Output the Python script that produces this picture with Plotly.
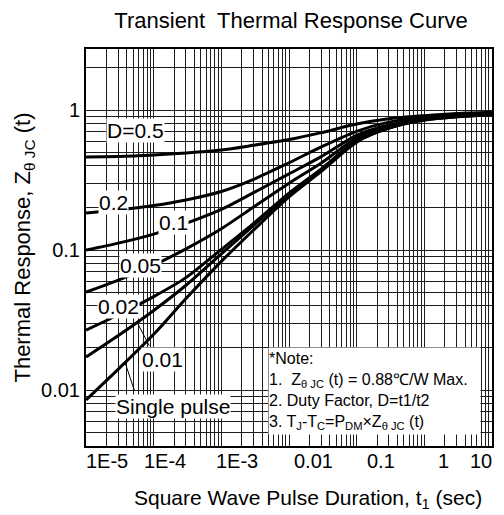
import numpy as np
import plotly.graph_objects as go

# ---- data ----
t_sec = [1e-5, 3e-5, 1e-4, 3e-4, 1e-3, 3e-3, 1e-2, 3e-2, 0.1, 0.3, 1, 3, 10]
z_d05 = [0.462, 0.465, 0.477, 0.493, 0.518, 0.56, 0.615, 0.69, 0.794, 0.866, 0.912, 0.945, 0.965]
z_d02 = [0.184, 0.193, 0.208, 0.228, 0.262, 0.32, 0.42, 0.545, 0.705, 0.82, 0.89, 0.925, 0.95]
z_d01 = [0.1, 0.112, 0.13, 0.155, 0.195, 0.257, 0.35, 0.465, 0.66, 0.782, 0.863, 0.906, 0.935]
z_d005 = [0.05, 0.061, 0.078, 0.102, 0.142, 0.203, 0.3, 0.418, 0.631, 0.768, 0.86, 0.903, 0.932]
z_d002 = [0.0268, 0.0345, 0.0465, 0.0635, 0.101, 0.155, 0.255, 0.38, 0.605, 0.752, 0.855, 0.9, 0.93]
z_d001 = [0.0172, 0.0245, 0.037, 0.056, 0.094, 0.15, 0.25, 0.373, 0.598, 0.744, 0.849, 0.897, 0.928]
z_single = [0.0085, 0.0141, 0.025, 0.045, 0.083, 0.139, 0.24, 0.365, 0.59, 0.742, 0.847, 0.895, 0.926]

series_names = ["D=0.5", "0.2", "0.1", "0.05", "0.02", "0.01", "Single pulse"]
series_values = [z_d05, z_d02, z_d01, z_d005, z_d002, z_d001, z_single]

x_tick_vals = [1e-5, 1e-4, 1e-3, 1e-2, 0.1, 1, 10]
x_tick_labels = ["1E-5", "1E-4", "1E-3", "0.01", "0.1", "1", "10"]
y_tick_vals = [0.01, 0.1, 1]
y_tick_labels = ["0.01", "0.1", "1"]

# ---- layout helpers ----
FONT = "Liberation Sans, Arial, sans-serif"
NB = "\u00a0"
# pixel shift of each x tick label from its tick, as placed in the reference
x_label_shift = [21, 11, 16, 24, 24, 19, -11]

minor_x = [m * 10.0 ** e for e in range(-5, 1) for m in range(2, 10)]
minor_y = [m * 10.0 ** e for e in range(-3, 1) for m in range(2, 10)]

fig = go.Figure()
for name, vals in zip(series_names, series_values):
    fig.add_trace(go.Scatter(
        x=t_sec, y=vals, mode="lines", name=name,
        line=dict(color="black", width=3, shape="spline", smoothing=0.8),
        showlegend=False, hoverinfo="skip"))

annotations = []

# x tick labels
for v, s, dx in zip(x_tick_vals, x_tick_labels, x_label_shift):
    annotations.append(dict(x=np.log10(v), y=0, xref="x", yref="paper", text=s,
                            showarrow=False, xshift=dx, yshift=-15,
                            xanchor="center", yanchor="middle",
                            font=dict(family=FONT, size=20, color="black")))

# curve labels (position in log10 data coords)
labels = [
    ("D=0.5", -4.276, -0.143),
    ("0.2", -4.601, -0.664),
    ("0.1", -3.714, -0.800),
    ("0.05", -4.202, -1.114),
    ("0.02", -4.527, -1.400),
    ("0.01", -3.877, -1.779),
    ("Single pulse", -3.714, -2.121),
]
for txt, lx, ly in labels:
    annotations.append(dict(x=lx, y=ly, xref="x", yref="y", text=txt, showarrow=False,
                            font=dict(family=FONT, size=21, color="black"),
                            bgcolor="white", borderpad=0))

# leader lines from labels to their curves
def on_curve(vals, t):
    return 10 ** np.interp(np.log10(t), np.log10(t_sec), np.log10(vals))

for vals, t, ax, ay in [(z_d001, 5.68e-5, 13, 25), (z_single, 3.77e-5, 10, 30)]:
    annotations.append(dict(x=np.log10(t), y=np.log10(on_curve(vals, t)), xref="x", yref="y",
                            text="", showarrow=True, arrowhead=0, arrowwidth=1,
                            arrowcolor="black", ax=ax, ay=ay, standoff=0, startstandoff=0))

note = ("*Note:<br>1." + NB + NB + "Z<sub>θ JC</sub> (t) = 0.88℃/W Max.<br>"
        "2. Duty Factor, D=t1/t2<br>"
        "3. T<sub>J</sub>-T<sub>C</sub>=P<sub>DM</sub>×Z<sub>θ JC</sub> (t)")
annotations.append(dict(x=0.7106, y=0.1373, xref="paper", yref="paper", text=note,
                        showarrow=False, align="left", valign="middle",
                        width=211, height=86, bgcolor="white", borderpad=0,
                        font=dict(family=FONT, size=16, color="black"),
                        xanchor="center", yanchor="middle"))

# x-axis title (placed as in the reference)
annotations.append(dict(x=0.547, y=-0.1335, xref="paper", yref="paper",
                        text="Square Wave Pulse Duration, t<sub>1</sub> (sec)",
                        showarrow=False, font=dict(family=FONT, size=21, color="black"),
                        xanchor="center", yanchor="middle"))

grid_col = "#1e1e1e"
fig.update_layout(
    width=496, height=507,
    margin=dict(l=78, r=12, t=41, b=69, autoexpand=False),
    paper_bgcolor="white", plot_bgcolor="white",
    font=dict(family=FONT, color="black"),
    title=dict(text="Transient  Thermal Response Curve", x=0.5706, xanchor="center",
               y=1 - 12 / 507, yanchor="middle", yref="container",
               font=dict(family=FONT, size=22, color="black")),
    annotations=annotations,
    xaxis=dict(type="log", range=[-5.001, 1.001], automargin=False,
               tickvals=x_tick_vals, showticklabels=False,
               showgrid=True, gridcolor=grid_col, gridwidth=1,
               minor=dict(tickvals=minor_x, showgrid=True, gridcolor=grid_col, gridwidth=1),
               showline=True, linecolor="black", linewidth=2, mirror=True,
               ticks="", zeroline=False),
    yaxis=dict(type="log", range=[-2.4, 0.436], automargin=False,
               tickvals=y_tick_vals, ticktext=y_tick_labels,
               tickfont=dict(family=FONT, size=20, color="black"),
               showgrid=True, gridcolor=grid_col, gridwidth=1,
               minor=dict(tickvals=minor_y, showgrid=True, gridcolor=grid_col, gridwidth=1),
               showline=True, linecolor="black", linewidth=2, mirror=True,
               ticks="", zeroline=False,
               title=dict(text="Thermal Response, Z<sub>θ JC</sub> (t)", standoff=4,
                          font=dict(family=FONT, size=22, color="black"))),
)

fig.write_html("out.html")
